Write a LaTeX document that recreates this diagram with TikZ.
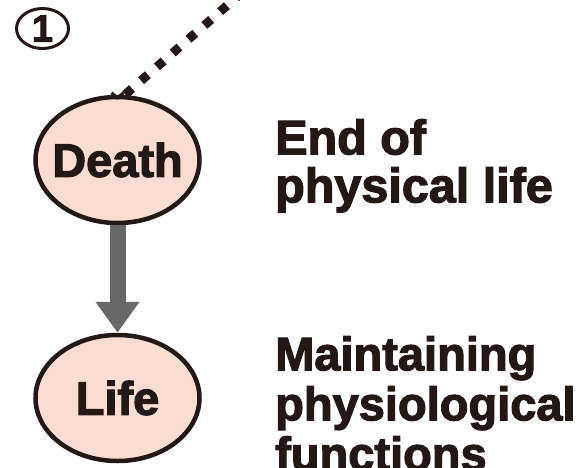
\documentclass[tikz,border=0pt]{standalone}
\usepackage{fontspec}
\setmainfont{Liberation Sans}[BoldFeatures={FakeBold=2.5}]
\usetikzlibrary{shapes.geometric,arrows.meta}
\definecolor{ink}{HTML}{231815}
\definecolor{pinkfill}{HTML}{F9DDD3}
\definecolor{arrowgray}{HTML}{686868}
\tikzset{
  stateoval/.style={ellipse, draw=ink, line width=4.5pt, fill=pinkfill,
    minimum width=164pt, minimum height=126pt, inner xsep=-12pt, inner ysep=0pt,
    text=ink, font=\fontsize{47}{47}\selectfont\bfseries},
  sidetext/.style={anchor=north west, inner sep=0pt, align=left, text=ink},
}
\begin{document}
\begin{tikzpicture}[x=1pt,y=-1pt]
\useasboundingbox (0,0) rectangle (582,467);
\clip (0,0) rectangle (582,467);
\fill[white] (0,0) rectangle (582,467);
% circled one
\node[ellipse, draw=ink, line width=3pt, minimum width=52pt, minimum height=40pt, inner sep=-4pt,
  text=ink, font=\fontsize{38}{38}\selectfont\bfseries] (one) at (42.5,28.5) {1};
% nodes
\node[stateoval] (death) at (117.5,160) {Death};
\node[stateoval] (life) at (117.5,398) {Life};
% dotted line from the top of Death
\coordinate (far) at (262,-25);
\draw[ink, line width=9pt, dash pattern=on 9pt off 12pt, dash phase=-5pt] (death.north) ++(4pt,-3pt) -- (far);
\draw[ink, line width=3pt] (death.north) ++(-6pt,2pt) -- ++(6pt,-5pt) -- ++(6pt,5pt);
% arrow
\draw[arrowgray, line width=16pt, -{Triangle[width=42pt,length=31pt]}] (death.south) -- (life.north);
% side texts
\node[sidetext, font=\fontsize{48.5}{48}\selectfont\bfseries] (endtxt) at (275,119) {End of\\physical life};
\node[sidetext, font=\fontsize{47}{50}\selectfont\bfseries] (maintxt) at (275,336) {Maintaining\\physiological\\functions};
\end{tikzpicture}
\end{document}
